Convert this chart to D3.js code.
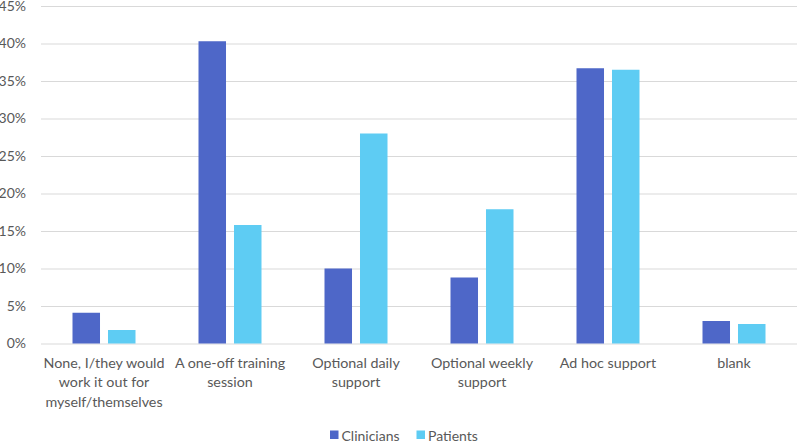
<!DOCTYPE html>
<html>
<head>
<meta charset="utf-8">
<script src="https://cdn.jsdelivr.net/npm/d3@7"></script>
<style>
  body { margin: 0; background: #fff; }
  text { font-family: Lato, "Liberation Sans", sans-serif; fill: #595959; }
</style>
</head>
<body>
<svg id="chart"></svg>
<script>
let categories = [
	'None, I/they would work it out for myself/themselves',
	'A one-off training session',
	'Optional daily support',
	'Optional weekly support',
	'Ad hoc support',
	'blank'
];
// wrapped the way the picture shows them
let categoryLines = [
	['None, I/they would', 'work it out for', 'myself/themselves'],
	['A one-off training', 'session'],
	['Optional daily', 'support'],
	['Optional weekly', 'support'],
	['Ad hoc support'],
	['blank']
];
let seriesNames = ['Clinicians', 'Patients'];
let clinicians = [4.1, 40.3, 10.0, 8.8, 36.7, 3.0];
let patients = [1.8, 15.8, 28.0, 17.9, 36.5, 2.6];
let yTicks = [0, 5, 10, 15, 20, 25, 30, 35, 40, 45];
let colors = ['#4E67C8', '#5ECCF3'];

let width = 800, height = 444;
let leftMargin = 41, rightMargin = 3, topMargin = 6, bottomMargin = 100.5;

let svg = d3.select('#chart')
	.attr('width', width)
	.attr('height', height);

let xScale = d3.scaleBand()
	.domain(categories)
	.range([leftMargin, width - rightMargin]);

let innerScale = d3.scaleBand()
	.domain(seriesNames)
	.range([31.5, 94.5])
	.paddingInner(0.225);

let yScale = d3.scaleLinear()
	.domain([0, 45])
	.range([height - bottomMargin, topMargin]);

// gridlines + y labels
let yAxis = d3.axisLeft(yScale)
	.tickValues(yTicks)
	.tickSize(-(width - rightMargin - leftMargin))
	.tickPadding(15)
	.tickFormat(d => d + '%');

let yAxisGroup = svg.append('g')
	.attr('transform', `translate(${leftMargin},0)`)
	.call(yAxis);
yAxisGroup.select('.domain').remove();
yAxisGroup.selectAll('line').attr('stroke', '#D9D9D9').attr('stroke-width', 1);
yAxisGroup.selectAll('text')
	.style('font-size', '14px')
	.attr('fill', '#595959');

// bars
let rows = categories.map((c, i) => ({ cat: c, values: [clinicians[i], patients[i]] }));

let groups = svg.selectAll('g.cat')
	.data(rows)
	.enter()
	.append('g')
	.attr('class', 'cat')
	.attr('transform', d => `translate(${xScale(d.cat)},0)`);

groups.selectAll('rect')
	.data(d => d.values.map((v, k) => ({ name: seriesNames[k], value: v, k: k })))
	.enter()
	.append('rect')
	.attr('x', d => innerScale(d.name))
	.attr('width', innerScale.bandwidth())
	.attr('y', d => yScale(d.value))
	.attr('height', d => yScale(0) - yScale(d.value))
	.attr('fill', d => colors[d.k]);

// x axis labels
let xLabels = svg.append('g');
categories.forEach((c, i) => {
	let t = xLabels.append('text')
		.attr('x', xScale(c) + xScale.bandwidth() / 2)
		.attr('y', 368)
		.style('text-anchor', 'middle')
		.style('font-size', '14.3px');
	categoryLines[i].forEach((line, j) => {
		t.append('tspan')
			.attr('x', xScale(c) + xScale.bandwidth() / 2)
			.attr('dy', j === 0 ? 0 : 19.3)
			.text(line);
	});
});

// legend
let legendX = [330, 416.5];
let legend = svg.append('g');
seriesNames.forEach((s, i) => {
	legend.append('rect')
		.attr('x', legendX[i])
		.attr('y', 430.5)
		.attr('width', 8.5)
		.attr('height', 8.5)
		.attr('fill', colors[i]);
	legend.append('text')
		.attr('x', legendX[i] + 11.5)
		.attr('y', 440.5)
		.style('font-size', '14px')
		.text(s);
});
</script>
</body>
</html>
